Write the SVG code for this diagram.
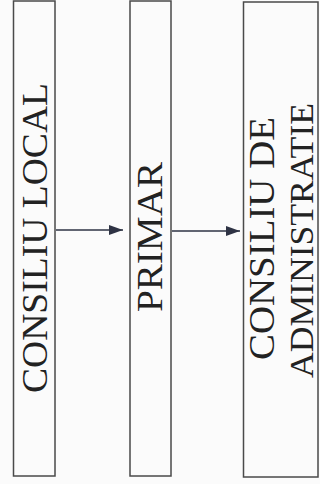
<svg xmlns="http://www.w3.org/2000/svg" width="320" height="484" viewBox="0 0 320 484">
<style>
.box{fill:none;stroke:#4a4a4a;stroke-width:1.5}
.lbl{font-family:"Liberation Serif","Times New Roman",serif;font-size:36px;fill:#222}
.conn{stroke:#2e3344;stroke-width:1.5;fill:none}
</style>
<defs>
<marker id="ah" viewBox="0 0 14 10" refX="14" refY="5" markerWidth="14" markerHeight="10" markerUnits="userSpaceOnUse" orient="auto">
<path d="M0,0 L14,5 L0,10 Z" fill="#2e3344"/>
</marker>
</defs>
<rect width="320" height="484" fill="#fbfbfb"/>
<g id="consiliu-local">
<rect class="box" x="13.5" y="1" width="41.5" height="475"/>
<text class="lbl" transform="translate(47,393) rotate(-90)" textLength="310" lengthAdjust="spacingAndGlyphs">CONSILIU LOCAL</text>
</g>
<g id="primar">
<rect class="box" x="130" y="1" width="41" height="475"/>
<text class="lbl" transform="translate(162,312) rotate(-90)" textLength="150" lengthAdjust="spacingAndGlyphs">PRIMAR</text>
</g>
<g id="consiliu-de-administratie">
<rect class="box" x="243.5" y="2" width="74.5" height="475"/>
<text class="lbl" transform="translate(274,360) rotate(-90)" textLength="243" lengthAdjust="spacingAndGlyphs">CONSILIU DE</text>
<text class="lbl" style="font-size:34px" transform="translate(313,378) rotate(-90)" textLength="275" lengthAdjust="spacingAndGlyphs">ADMINISTRATIE</text>
</g>
<g id="connectors">
<line class="conn" x1="56" y1="230" x2="123" y2="230" marker-end="url(#ah)"/>
<line class="conn" x1="172" y1="231" x2="240" y2="231" marker-end="url(#ah)"/>
</g>
</svg>
